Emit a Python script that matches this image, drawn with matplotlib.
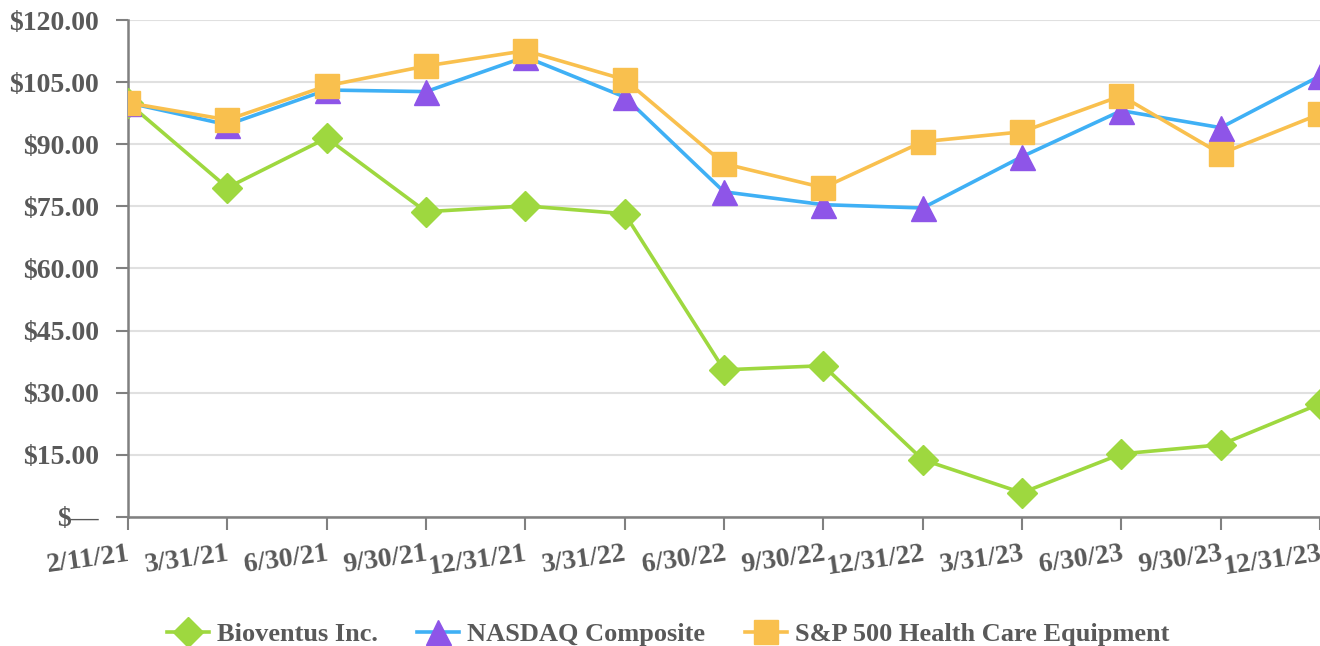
import matplotlib
matplotlib.use("Agg")
import matplotlib.pyplot as plt
from matplotlib.ticker import FuncFormatter

dates = ["2/11/21", "3/31/21", "6/30/21", "9/30/21", "12/31/21", "3/31/22", "6/30/22",
         "9/30/22", "12/31/22", "3/31/23", "6/30/23", "9/30/23", "12/31/23"]
bioventus = [100.0, 79.5, 91.5, 73.7, 75.1, 73.2, 35.5, 36.5, 13.8, 5.8, 15.2, 17.4, 27.3]
nasdaq = [100.0, 94.7, 103.1, 102.7, 111.1, 101.4, 78.5, 75.4, 74.6, 87.0, 98.1, 94.0, 106.5]
sp_hce = [100.0, 95.9, 104.1, 108.9, 112.6, 105.6, 85.3, 79.5, 90.6, 93.0, 101.7, 87.7, 97.3]

txt = "#595959"
axc = "#808080"
plt.rcParams["font.family"] = ["Liberation Serif", "DejaVu Serif"]
plt.rcParams["font.weight"] = "bold"

fig = plt.figure(figsize=(13.2, 6.46), dpi=100)
ax = fig.add_axes([0.097, 0.2, 0.903, 0.769])

x = list(range(len(dates)))
ax.plot(x, bioventus, color="#9ED83F", lw=2.6, marker="D", ms=15, mec="#9ED83F",
        label="Bioventus Inc.", zorder=3)
ax.plot(x, nasdaq, color="#3FB0F5", lw=2.6, marker="^", ms=18, mfc="#8E55E8", mec="#8E55E8",
        label="NASDAQ Composite", zorder=4)
ax.plot(x, sp_hce, color="#F9C04E", lw=2.6, marker="s", ms=17, mec="#F9C04E",
        label="S&P 500 Health Care Equipment", zorder=5)

ax.set_xlim(0, len(dates) - 1)
ax.set_ylim(0, 120)
ax.set_yticks(range(0, 121, 15))
ax.yaxis.set_major_formatter(FuncFormatter(lambda v, p: "$\u2014" if v == 0 else f"${v:.2f}"))
ax.set_xticks(x)
ax.set_xticklabels(dates, rotation=8, ha="right", rotation_mode="anchor")
ax.grid(axis="y", color="#E0E0E0", lw=1.5, zorder=0)
ax.set_axisbelow(True)

for s in ["top", "right"]:
    ax.spines[s].set_visible(False)
for s in ["left", "bottom"]:
    ax.spines[s].set_color(axc)
    ax.spines[s].set_linewidth(1.8)
ax.tick_params(colors=axc, width=1.5, length=9, labelsize=20, labelcolor=txt)
ax.tick_params(axis="x", pad=9)
ax.tick_params(axis="y", pad=12)
for lab in ax.get_xticklabels() + ax.get_yticklabels():
    lab.set_fontweight("bold")

fig.legend(loc="center", bbox_to_anchor=(0.506, 0.018), ncol=3, frameon=False,
           fontsize=19, labelcolor=txt, handlelength=1.6, columnspacing=1.5,
           handletextpad=0.3, markerscale=1.0)

fig.savefig("out.png", dpi=100)
